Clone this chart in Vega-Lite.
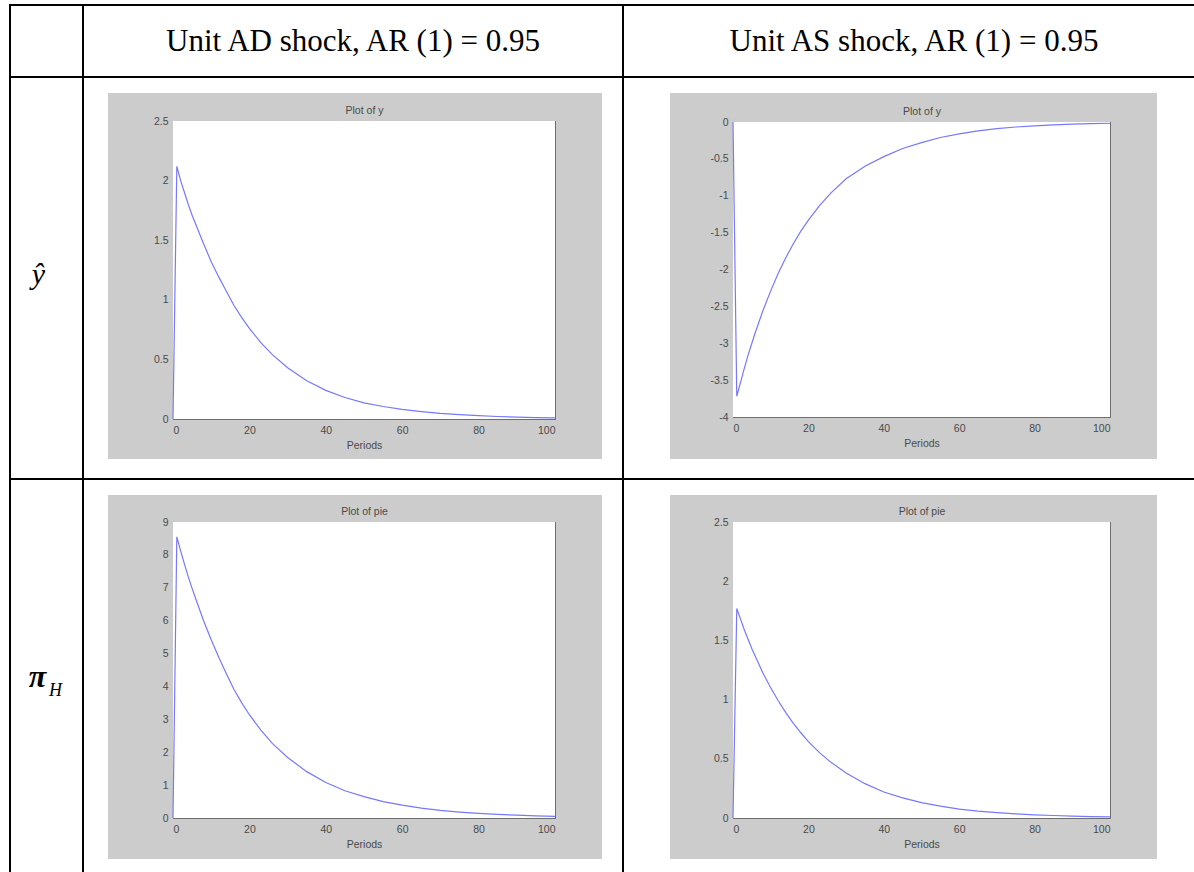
{
"$schema": "https://vega.github.io/schema/vega-lite/v6.json",
"padding": 0,
"background": "white",
"spacing": 0,
"config": {
  "view": {"stroke": null},
  "concat": {"spacing": 0},
  "axis": {"domainColor": "#6e6e6e", "tickColor": "#6e6e6e", "labelColor": "#4a4a4a", "titleColor": "#4a4a4a", "labelFont": "Liberation Sans", "titleFont": "Liberation Sans", "labelFontSize": 10.5, "titleFontSize": 10.5, "titleFontWeight": "normal", "grid": false, "domainWidth": 1, "tickWidth": 1, "zindex": 1}
},
"datasets": {
  "yAD": [{"period":0,"value":0},{"period":1,"value":2.12},{"period":2,"value":2.0},{"period":3,"value":1.9},{"period":4,"value":1.8},{"period":5,"value":1.71},{"period":6,"value":1.63},{"period":8,"value":1.47},{"period":10,"value":1.32},{"period":12,"value":1.19},{"period":14,"value":1.07},{"period":16,"value":0.95},{"period":18,"value":0.85},{"period":20,"value":0.76},{"period":23,"value":0.64},{"period":26,"value":0.54},{"period":30,"value":0.43},{"period":35,"value":0.32},{"period":40,"value":0.24},{"period":45,"value":0.18},{"period":50,"value":0.135},{"period":55,"value":0.105},{"period":60,"value":0.08},{"period":65,"value":0.062},{"period":70,"value":0.047},{"period":75,"value":0.036},{"period":80,"value":0.028},{"period":85,"value":0.021},{"period":90,"value":0.016},{"period":95,"value":0.012},{"period":100,"value":0.01}],
  "yAS": [{"period":0,"value":0},{"period":1,"value":-3.72},{"period":2,"value":-3.53},{"period":3,"value":-3.34},{"period":4,"value":-3.16},{"period":5,"value":-3.0},{"period":6,"value":-2.84},{"period":8,"value":-2.55},{"period":10,"value":-2.29},{"period":12,"value":-2.05},{"period":14,"value":-1.84},{"period":16,"value":-1.65},{"period":18,"value":-1.48},{"period":20,"value":-1.33},{"period":23,"value":-1.13},{"period":26,"value":-0.96},{"period":30,"value":-0.77},{"period":35,"value":-0.6},{"period":40,"value":-0.47},{"period":45,"value":-0.36},{"period":50,"value":-0.28},{"period":55,"value":-0.21},{"period":60,"value":-0.16},{"period":65,"value":-0.12},{"period":70,"value":-0.09},{"period":75,"value":-0.068},{"period":80,"value":-0.052},{"period":85,"value":-0.04},{"period":90,"value":-0.03},{"period":95,"value":-0.022},{"period":100,"value":-0.017}],
  "piAD": [{"period":0,"value":0},{"period":1,"value":8.55},{"period":2,"value":8.12},{"period":3,"value":7.72},{"period":4,"value":7.33},{"period":5,"value":6.98},{"period":6,"value":6.65},{"period":8,"value":6.0},{"period":10,"value":5.42},{"period":12,"value":4.88},{"period":14,"value":4.38},{"period":16,"value":3.9},{"period":18,"value":3.5},{"period":20,"value":3.14},{"period":23,"value":2.67},{"period":26,"value":2.27},{"period":30,"value":1.84},{"period":35,"value":1.41},{"period":40,"value":1.08},{"period":45,"value":0.83},{"period":50,"value":0.65},{"period":55,"value":0.5},{"period":60,"value":0.39},{"period":65,"value":0.3},{"period":70,"value":0.23},{"period":75,"value":0.18},{"period":80,"value":0.14},{"period":85,"value":0.11},{"period":90,"value":0.085},{"period":95,"value":0.065},{"period":100,"value":0.05}],
  "piAS": [{"period":0,"value":0},{"period":1,"value":1.77},{"period":2,"value":1.68},{"period":3,"value":1.59},{"period":4,"value":1.51},{"period":5,"value":1.43},{"period":6,"value":1.36},{"period":8,"value":1.22},{"period":10,"value":1.1},{"period":12,"value":0.99},{"period":14,"value":0.89},{"period":16,"value":0.8},{"period":18,"value":0.72},{"period":20,"value":0.645},{"period":23,"value":0.55},{"period":26,"value":0.47},{"period":30,"value":0.38},{"period":35,"value":0.29},{"period":40,"value":0.22},{"period":45,"value":0.17},{"period":50,"value":0.13},{"period":55,"value":0.1},{"period":60,"value":0.075},{"period":65,"value":0.058},{"period":70,"value":0.045},{"period":75,"value":0.035},{"period":80,"value":0.027},{"period":85,"value":0.021},{"period":90,"value":0.016},{"period":95,"value":0.012},{"period":100,"value":0.01}]
},
"vconcat": [
  {"width": 1194, "height": 4, "data": {"values": []}, "mark": "point"},
  {"spacing": 0, "hconcat": [
    {"width": 9, "height": 2, "data": {"values": []}, "mark": "point"},
    {"width": 1185, "height": 2, "data": {"values": []}, "mark": "point", "view": {"fill": "black"}}
  ]},
  {"spacing": 0, "hconcat": [
    {"width": 9, "height": 70, "data": {"values": []}, "mark": "point"},
    {"width": 2, "height": 70, "data": {"values": []}, "mark": "point", "view": {"fill": "black"}},
    {"width": 71, "height": 70, "data": {"values": []}, "mark": "point"},
    {"width": 2, "height": 70, "data": {"values": []}, "mark": "point", "view": {"fill": "black"}},
    {"width": 538, "height": 70, "data": {"values": [{"label": "Unit AD shock, AR (1) = 0.95"}]}, "mark": {"type": "text", "font": "Liberation Serif", "fontSize": 31, "baseline": "alphabetic", "dy": 10, "color": "black"}, "encoding": {"text": {"field": "label"}}},
    {"width": 2, "height": 70, "data": {"values": []}, "mark": "point", "view": {"fill": "black"}},
    {"width": 570, "height": 70, "data": {"values": [{"label": "Unit AS shock, AR (1) = 0.95"}]}, "mark": {"type": "text", "font": "Liberation Serif", "fontSize": 31, "baseline": "alphabetic", "dy": 10, "dx": 5, "color": "black"}, "encoding": {"text": {"field": "label"}}}
  ]},
  {"spacing": 0, "hconcat": [
    {"width": 9, "height": 2, "data": {"values": []}, "mark": "point"},
    {"width": 1185, "height": 2, "data": {"values": []}, "mark": "point", "view": {"fill": "black"}}
  ]},
  {"spacing": 0, "hconcat": [
    {"width": 9, "height": 400, "data": {"values": []}, "mark": "point"},
    {"width": 2, "height": 400, "data": {"values": []}, "mark": "point", "view": {"fill": "black"}},
    {"width": 71, "height": 400, "data": {"values": [{"label": "ŷ"}]}, "mark": {"type": "text", "font": "Liberation Serif", "fontStyle": "italic", "fontSize": 30, "baseline": "alphabetic", "dx": -8, "dy": 6, "color": "black"}, "encoding": {"text": {"field": "label"}}},
    {"width": 2, "height": 400, "data": {"values": []}, "mark": "point", "view": {"fill": "black"}},
    {"spacing": 0, "hconcat": [
      {"width": 24, "height": 400, "data": {"values": []}, "mark": "point"},
      {"spacing": 0, "vconcat": [
        {"width": 494, "height": 15, "data": {"values": []}, "mark": "point"},
        {"width": 494, "height": 366, "view": {"fill": "#cccccc"},
         "layer": [
          {"data": {"values": [{}]}, "mark": {"type": "rect", "fill": "white"},
           "encoding": {
            "x": {"datum": 0, "type": "quantitative", "scale": {"domain": [0, 100], "range": [65, 447], "nice": false, "zero": false}, "axis": {"orient": "bottom", "offset": -40, "values": [0, 20, 40, 60, 80, 100], "format": "d", "tickSize": -4, "labelPadding": 10, "title": "Periods", "titlePadding": 5}},
            "x2": {"datum": 100},
            "y": {"datum": 0, "type": "quantitative", "scale": {"domain": [0, 2.5], "range": [326, 28], "nice": false, "zero": false}, "axis": {"orient": "left", "offset": -65, "values": [0, 0.5, 1, 1.5, 2, 2.5], "format": "~g", "tickSize": -4, "labelPadding": 9, "title": null}},
            "y2": {"datum": 2.5}}},
          {"data": {"name": "yAD"}, "mark": {"type": "line", "color": "#7878ff", "strokeWidth": 1.2},
           "encoding": {
            "x": {"field": "period", "type": "quantitative", "scale": {"domain": [0, 100], "range": [65, 447], "nice": false, "zero": false}, "axis": {"orient": "top", "offset": -28, "values": [0, 20, 40, 60, 80, 100], "labels": false, "tickSize": -4, "title": "Plot of y", "titlePadding": 5}},
            "y": {"field": "value", "type": "quantitative", "scale": {"domain": [0, 2.5], "range": [326, 28], "nice": false, "zero": false}, "axis": {"orient": "right", "offset": -47, "values": [0, 0.5, 1, 1.5, 2, 2.5], "labels": false, "tickSize": -4, "title": null}}}}
         ],
         "resolve": {"axis": {"x": "independent", "y": "independent"}}},
        {"width": 494, "height": 19, "data": {"values": []}, "mark": "point"}
      ]},
      {"width": 20, "height": 400, "data": {"values": []}, "mark": "point"}
    ]},
    {"width": 2, "height": 400, "data": {"values": []}, "mark": "point", "view": {"fill": "black"}},
    {"spacing": 0, "hconcat": [
      {"width": 46, "height": 400, "data": {"values": []}, "mark": "point"},
      {"spacing": 0, "vconcat": [
        {"width": 487, "height": 15, "data": {"values": []}, "mark": "point"},
        {"width": 487, "height": 366, "view": {"fill": "#cccccc"},
         "layer": [
          {"data": {"values": [{}]}, "mark": {"type": "rect", "fill": "white"},
           "encoding": {
            "x": {"datum": 0, "type": "quantitative", "scale": {"domain": [0, 100], "range": [63, 440], "nice": false, "zero": false}, "axis": {"orient": "bottom", "offset": -42, "values": [0, 20, 40, 60, 80, 100], "format": "d", "tickSize": -4, "labelPadding": 10, "title": "Periods", "titlePadding": 5}},
            "x2": {"datum": 100},
            "y": {"datum": -4, "type": "quantitative", "scale": {"domain": [-4, 0], "range": [324, 29], "nice": false, "zero": false}, "axis": {"orient": "left", "offset": -63, "values": [-4, -3.5, -3, -2.5, -2, -1.5, -1, -0.5, 0], "format": "~g", "labelExpr": "replace(datum.label, '−', '-')", "tickSize": -4, "labelPadding": 9, "title": null}},
            "y2": {"datum": 0}}},
          {"data": {"name": "yAS"}, "mark": {"type": "line", "color": "#7878ff", "strokeWidth": 1.2},
           "encoding": {
            "x": {"field": "period", "type": "quantitative", "scale": {"domain": [0, 100], "range": [63, 440], "nice": false, "zero": false}, "axis": {"orient": "top", "offset": -29, "values": [0, 20, 40, 60, 80, 100], "labels": false, "tickSize": -4, "title": "Plot of y", "titlePadding": 5}},
            "y": {"field": "value", "type": "quantitative", "scale": {"domain": [-4, 0], "range": [324, 29], "nice": false, "zero": false}, "axis": {"orient": "right", "offset": -47, "values": [-4, -3.5, -3, -2.5, -2, -1.5, -1, -0.5, 0], "labels": false, "tickSize": -4, "title": null}}}}
         ],
         "resolve": {"axis": {"x": "independent", "y": "independent"}}},
        {"width": 487, "height": 19, "data": {"values": []}, "mark": "point"}
      ]},
      {"width": 37, "height": 400, "data": {"values": []}, "mark": "point"}
    ]}
  ]},
  {"spacing": 0, "hconcat": [
    {"width": 9, "height": 2, "data": {"values": []}, "mark": "point"},
    {"width": 1185, "height": 2, "data": {"values": []}, "mark": "point", "view": {"fill": "black"}}
  ]},
  {"spacing": 0, "hconcat": [
    {"width": 9, "height": 392, "data": {"values": []}, "mark": "point"},
    {"width": 2, "height": 392, "data": {"values": []}, "mark": "point", "view": {"fill": "black"}},
    {"width": 71, "height": 392, "data": {"values": [{"p": "π", "h": "H"}]},
     "layer": [
      {"mark": {"type": "text", "font": "Liberation Serif", "fontStyle": "italic", "fontWeight": "bold", "fontSize": 32, "baseline": "alphabetic", "dx": -9, "dy": 11, "color": "black"}, "encoding": {"text": {"field": "p"}}},
      {"mark": {"type": "text", "font": "Liberation Serif", "fontStyle": "italic", "fontSize": 18, "baseline": "alphabetic", "dx": 9, "dy": 20, "color": "black"}, "encoding": {"text": {"field": "h"}}}
     ]},
    {"width": 2, "height": 392, "data": {"values": []}, "mark": "point", "view": {"fill": "black"}},
    {"spacing": 0, "hconcat": [
      {"width": 24, "height": 392, "data": {"values": []}, "mark": "point"},
      {"spacing": 0, "vconcat": [
        {"width": 494, "height": 15, "data": {"values": []}, "mark": "point"},
        {"width": 494, "height": 364, "view": {"fill": "#cccccc"},
         "layer": [
          {"data": {"values": [{}]}, "mark": {"type": "rect", "fill": "white"},
           "encoding": {
            "x": {"datum": 0, "type": "quantitative", "scale": {"domain": [0, 100], "range": [65, 447], "nice": false, "zero": false}, "axis": {"orient": "bottom", "offset": -41, "values": [0, 20, 40, 60, 80, 100], "format": "d", "tickSize": -4, "labelPadding": 10, "title": "Periods", "titlePadding": 5}},
            "x2": {"datum": 100},
            "y": {"datum": 0, "type": "quantitative", "scale": {"domain": [0, 9], "range": [323, 27], "nice": false, "zero": false}, "axis": {"orient": "left", "offset": -65, "values": [0, 1, 2, 3, 4, 5, 6, 7, 8, 9], "format": "~g", "tickSize": -4, "labelPadding": 9, "title": null}},
            "y2": {"datum": 9}}},
          {"data": {"name": "piAD"}, "mark": {"type": "line", "color": "#7878ff", "strokeWidth": 1.2},
           "encoding": {
            "x": {"field": "period", "type": "quantitative", "scale": {"domain": [0, 100], "range": [65, 447], "nice": false, "zero": false}, "axis": {"orient": "top", "offset": -27, "values": [0, 20, 40, 60, 80, 100], "labels": false, "tickSize": -4, "title": "Plot of pie", "titlePadding": 5}},
            "y": {"field": "value", "type": "quantitative", "scale": {"domain": [0, 9], "range": [323, 27], "nice": false, "zero": false}, "axis": {"orient": "right", "offset": -47, "values": [0, 1, 2, 3, 4, 5, 6, 7, 8, 9], "labels": false, "tickSize": -4, "title": null}}}}
         ],
         "resolve": {"axis": {"x": "independent", "y": "independent"}}},
        {"width": 494, "height": 13, "data": {"values": []}, "mark": "point"}
      ]},
      {"width": 20, "height": 392, "data": {"values": []}, "mark": "point"}
    ]},
    {"width": 2, "height": 392, "data": {"values": []}, "mark": "point", "view": {"fill": "black"}},
    {"spacing": 0, "hconcat": [
      {"width": 46, "height": 392, "data": {"values": []}, "mark": "point"},
      {"spacing": 0, "vconcat": [
        {"width": 487, "height": 15, "data": {"values": []}, "mark": "point"},
        {"width": 487, "height": 364, "view": {"fill": "#cccccc"},
         "layer": [
          {"data": {"values": [{}]}, "mark": {"type": "rect", "fill": "white"},
           "encoding": {
            "x": {"datum": 0, "type": "quantitative", "scale": {"domain": [0, 100], "range": [63, 440], "nice": false, "zero": false}, "axis": {"orient": "bottom", "offset": -41, "values": [0, 20, 40, 60, 80, 100], "format": "d", "tickSize": -4, "labelPadding": 10, "title": "Periods", "titlePadding": 5}},
            "x2": {"datum": 100},
            "y": {"datum": 0, "type": "quantitative", "scale": {"domain": [0, 2.5], "range": [323, 27], "nice": false, "zero": false}, "axis": {"orient": "left", "offset": -63, "values": [0, 0.5, 1, 1.5, 2, 2.5], "format": "~g", "tickSize": -4, "labelPadding": 9, "title": null}},
            "y2": {"datum": 2.5}}},
          {"data": {"name": "piAS"}, "mark": {"type": "line", "color": "#7878ff", "strokeWidth": 1.2},
           "encoding": {
            "x": {"field": "period", "type": "quantitative", "scale": {"domain": [0, 100], "range": [63, 440], "nice": false, "zero": false}, "axis": {"orient": "top", "offset": -27, "values": [0, 20, 40, 60, 80, 100], "labels": false, "tickSize": -4, "title": "Plot of pie", "titlePadding": 5}},
            "y": {"field": "value", "type": "quantitative", "scale": {"domain": [0, 2.5], "range": [323, 27], "nice": false, "zero": false}, "axis": {"orient": "right", "offset": -47, "values": [0, 0.5, 1, 1.5, 2, 2.5], "labels": false, "tickSize": -4, "title": null}}}}
         ],
         "resolve": {"axis": {"x": "independent", "y": "independent"}}},
        {"width": 487, "height": 13, "data": {"values": []}, "mark": "point"}
      ]},
      {"width": 37, "height": 392, "data": {"values": []}, "mark": "point"}
    ]}
  ]}
]
}
